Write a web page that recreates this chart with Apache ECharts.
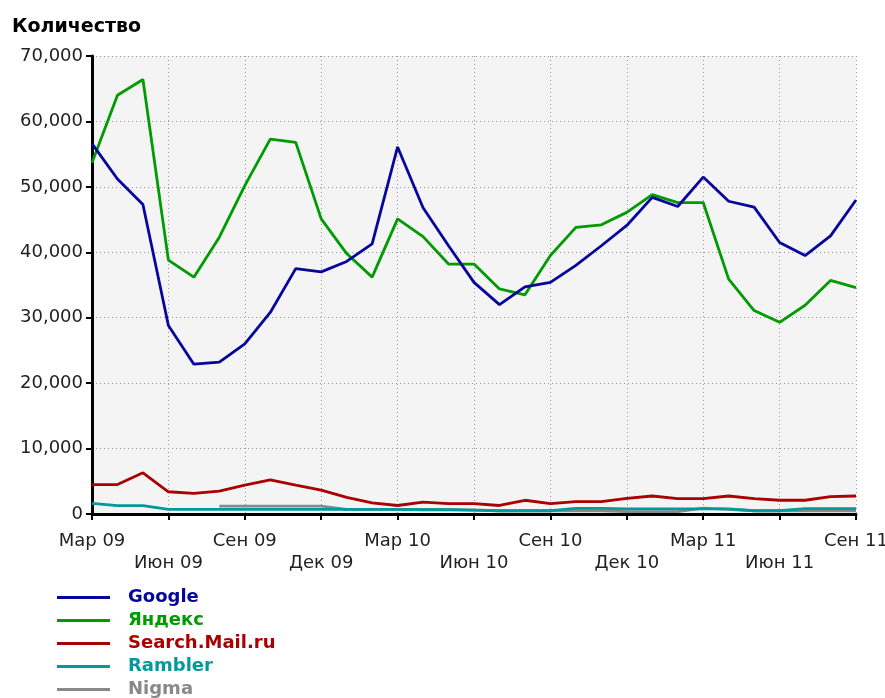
<!DOCTYPE html>
<html><head><meta charset="utf-8">
<script src="https://cdn.jsdelivr.net/npm/echarts@6/dist/echarts.min.js"></script>
<style>html,body{margin:0;padding:0;background:#fff}#c{width:885px;height:698px}</style>
</head><body><div id="c"></div>
<script>
const months = ['Мар 09','Апр 09','Май 09','Июн 09','Июл 09','Авг 09','Сен 09','Окт 09','Ноя 09','Дек 09',
  'Янв 10','Фев 10','Мар 10','Апр 10','Май 10','Июн 10','Июл 10','Авг 10','Сен 10','Окт 10','Ноя 10','Дек 10',
  'Янв 11','Фев 11','Мар 11','Апр 11','Май 11','Июн 11','Июл 11','Авг 11','Сен 11'];
const google = [56600,51200,47300,28800,22900,23200,26000,30800,37500,37000,38600,41300,56100,46800,41000,35400,32000,34700,35400,38000,41000,44100,48400,47000,51500,47800,46900,41500,39500,42500,48000];
const yandex = [53700,64000,66400,38800,36200,42300,50200,57300,56800,45100,39800,36200,45100,42400,38200,38200,34400,33500,39500,43800,44200,46100,48800,47600,47600,35900,31100,29300,31900,35700,34600];
const mailru = [4500,4500,6300,3400,3150,3500,4400,5200,4400,3650,2550,1700,1300,1800,1600,1600,1300,2100,1600,1900,1900,2400,2750,2350,2350,2750,2350,2100,2100,2650,2750];
const rambler = [1630,1270,1270,710,700,700,700,700,700,700,700,700,700,650,650,600,500,500,500,870,870,770,770,770,770,770,500,500,820,820,820];
const nigma = [null,null,null,null,null,1200,1200,1200,1200,1200,700,700,700,700,700,600,500,500,500,500,500,350,350,350,900,700,500,500,500,500,500];
const seriesNames = ['Google','Яндекс','Search.Mail.ru','Rambler','Nigma'];
const seriesColors = ['#06069c','#019a01','#aa0000','#009a9a','#888888'];
const yTicks = {min:0, max:70000, step:10000};

const chart = echarts.init(document.getElementById('c'));
const dataMap = {'Google':google,'Яндекс':yandex,'Search.Mail.ru':mailru,'Rambler':rambler,'Nigma':nigma};
const drawOrder = ['Nigma','Rambler','Search.Mail.ru','Яндекс','Google'];
const F = 'DejaVu Sans';
chart.setOption({
  animation:false,
  title:{text:'Количество',left:7,top:13,textStyle:{fontFamily:F,fontWeight:'bold',fontSize:19,color:'#000'}},
  grid:{left:92,right:29,top:56,bottom:184,show:true,backgroundColor:'#f4f4f4',borderWidth:0,outerBoundsMode:'none',containLabel:false},
  legend:{orient:'vertical',left:57,top:588,height:115,padding:0,itemWidth:53,itemHeight:3,itemGap:4,icon:'rect',
    selectedMode:false,
    data:seriesNames.map((n,i)=>({name:n,textStyle:{color:seriesColors[i]}})),
    textStyle:{fontFamily:F,fontWeight:'bold',fontSize:18,padding:[0,0,0,13],lineHeight:19}},
  xAxis:{type:'category',data:months,boundaryGap:false,
    axisLine:{lineStyle:{color:'#000',width:3}},
    axisTick:{interval:2,length:6,lineStyle:{color:'#000',width:2}},
    axisLabel:{interval:2,fontFamily:F,fontSize:18,color:'#222',margin:16,lineHeight:22,
      formatter:(v,i)=> (i%6===3 ? '\n'+v : v)},
    splitLine:{show:true,interval:2,lineStyle:{color:'#999',type:[1,3],width:1}}},
  yAxis:{type:'value',min:yTicks.min,max:yTicks.max,interval:yTicks.step,
    axisLine:{show:true,lineStyle:{color:'#000',width:3}},
    axisTick:{show:true,length:6,lineStyle:{color:'#000',width:2}},
    axisLabel:{fontFamily:F,fontSize:18,color:'#222',margin:9,formatter:v=>v.toLocaleString('en-US')},
    splitLine:{show:true,lineStyle:{color:'#999',type:[1,3],width:1}}},
  series: drawOrder.map(n=>({name:n,type:'line',data:dataMap[n],showSymbol:false,symbol:'none',
    color:seriesColors[seriesNames.indexOf(n)],lineStyle:{width:2.8},connectNulls:false}))
});
</script></body></html>
